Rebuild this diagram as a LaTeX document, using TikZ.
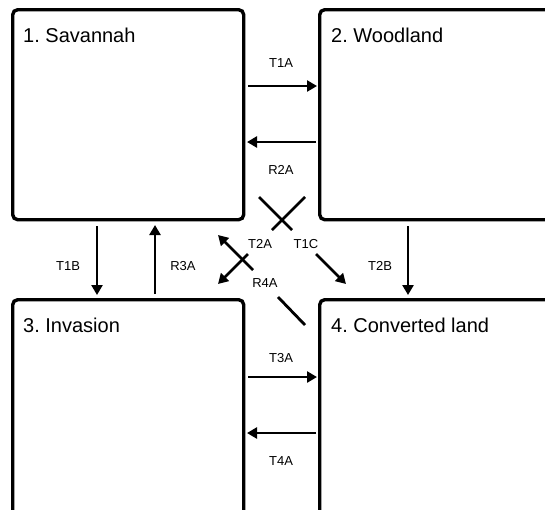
\documentclass[tikz,border=0pt]{standalone}
\usepackage{fontspec}
\setmainfont{Liberation Sans}
\usetikzlibrary{arrows.meta}
\frenchspacing
\begin{document}
\begin{tikzpicture}[x=1pt,y=-1pt,
  box/.style={draw, line width=3.4pt, rounded corners=5pt, anchor=north west, inner sep=0pt},
  conn/.style={line width=2.8pt, -{Triangle[length=10pt,width=11pt]}},
  seg/.style={line width=2.8pt},
  lab/.style={font=\fontsize{13}{15}\selectfont, inner sep=0pt},
  title/.style={font=\fontsize{20}{23}\selectfont, anchor=base west, inner sep=0pt}]
\useasboundingbox (0,0) rectangle (545,509);
\clip (0,0) rectangle (545,509);
% boxes
\node[box, minimum width=231pt, minimum height=210pt] (b1) at (11,8) {};
\node[box, minimum width=260pt, minimum height=210pt] (b2) at (318,8) {};
\node[box, minimum width=231pt, minimum height=220pt] (b3) at (11,298) {};
\node[box, minimum width=260pt, minimum height=220pt] (b4) at (318,298) {};
% titles
\node[title] (t1) at (23,42) {1. Savannah};
\node[title] (t2) at (331,42) {2. Woodland};
\node[title] (t3) at (23,332) {3. Invasion};
\node[title] (t4) at (331,332) {4. Converted land};
% horizontal arrows
\coordinate (a1s) at (248,86);  \coordinate (a1e) at (317,86);
\coordinate (a2s) at (316,142); \coordinate (a2e) at (247,142);
\coordinate (a3s) at (248,377); \coordinate (a3e) at (317,377);
\coordinate (a4s) at (316,433); \coordinate (a4e) at (247,433);
\draw[conn] (a1s) -- (a1e);
\draw[conn] (a2s) -- (a2e);
\draw[conn] (a3s) -- (a3e);
\draw[conn] (a4s) -- (a4e);
% vertical arrows
\coordinate (v1s) at (97,226);  \coordinate (v1e) at (97,295);
\coordinate (v2s) at (155,294); \coordinate (v2e) at (155,225);
\coordinate (v3s) at (408,226); \coordinate (v3e) at (408,295);
\draw[conn] (v1s) -- (v1e);
\draw[conn] (v2s) -- (v2e);
\draw[conn] (v3s) -- (v3e);
% diagonal T1C
\coordinate (c1a) at (259,197); \coordinate (c1b) at (292,230);
\coordinate (c1c) at (316,254); \coordinate (c1d) at (346,284);
\draw[seg] (c1a) -- (c1b);
\draw[conn] (c1c) -- (c1d);
% diagonal T2A
\coordinate (c2a) at (305,197); \coordinate (c2b) at (272,230);
\coordinate (c2c) at (248,254); \coordinate (c2d) at (218,284);
\draw[seg] (c2a) -- (c2b);
\draw[conn] (c2c) -- (c2d);
% diagonal R4A
\coordinate (c3a) at (305,325); \coordinate (c3b) at (278,297);
\coordinate (c3c) at (253,270); \coordinate (c3d) at (218,235);
\draw[seg] (c3a) -- (c3b);
\draw[conn] (c3c) -- (c3d);
% labels
\node[lab] (l1) at (281,63) {T1A};
\node[lab] (l2) at (281,170) {R2A};
\node[lab] (l3) at (68,266) {T1B};
\node[lab] (l4) at (183,266) {R3A};
\node[lab] (l5) at (380,266) {T2B};
\node[lab] (l6) at (260,244) {T2A};
\node[lab] (l7) at (306,244) {T1C};
\node[lab] (l8) at (265,283) {R4A};
\node[lab] (l9) at (281,358) {T3A};
\node[lab] (l10) at (281,461) {T4A};
\end{tikzpicture}
\end{document}
